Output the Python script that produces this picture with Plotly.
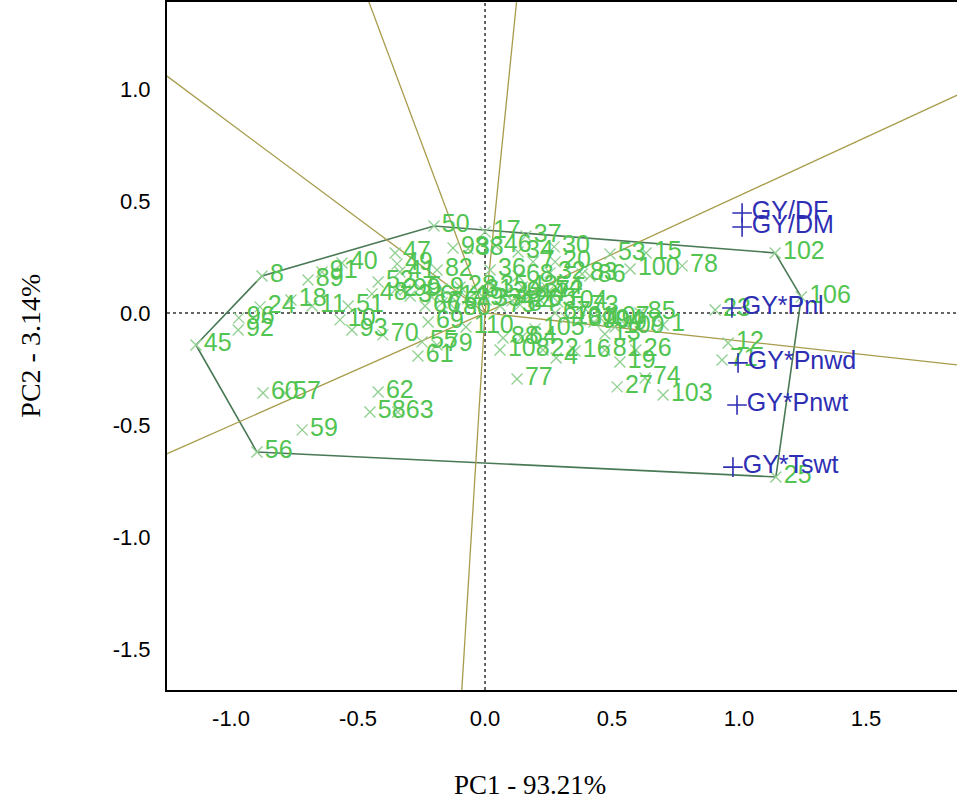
import plotly.graph_objects as go

# ---------------- data ----------------
geno_labels = [
    "45", "8", "50", "102", "106", "25", "56",
    "96", "92", "24", "18", "89", "91", "40", "11", "51", "10", "93", "70",
    "48", "52", "47", "49", "41", "82", "98", "38", "17", "37", "46", "34",
    "7", "30", "20", "53", "15", "100", "78", "83", "86", "32", "54", "36",
    "68", "69", "110", "55", "79", "61", "88", "64", "108", "77", "67", "73",
    "105", "85", "1", "13", "22", "4", "16", "81", "26", "19", "27", "74",
    "103", "12", "71", "23", "60", "57", "62", "58", "63", "59", "66",
    "2", "3", "5", "6", "9", "14", "28", "29", "31", "33", "35", "39", "42",
    "43", "44", "65", "72", "75", "80", "84", "87", "90", "94", "97", "99",
    "101", "104", "107", "109", "76",
]
geno_pc1 = [
    -1.138, -0.878, -0.201, 1.142, 1.245, 1.145, -0.898,
    -0.969, -0.972, -0.886, -0.764, -0.697, -0.642, -0.563, -0.681, -0.539, -0.571, -0.524, -0.402,
    -0.445, -0.421, -0.354, -0.346, -0.335, -0.189, -0.126, -0.067, 0.000, 0.161, 0.043, 0.130,
    0.189, 0.272, 0.276, 0.492, 0.634, 0.571, 0.776, 0.382, 0.413, 0.256, 0.244, 0.020,
    0.130, -0.224, -0.075, -0.248, -0.189, -0.264, 0.071, 0.142, 0.059, 0.126, 0.276, 0.386,
    0.197, 0.610, 0.701, 0.472, 0.228, 0.280, 0.354, 0.472, 0.594, 0.531, 0.520, 0.630,
    0.701, 0.957, 0.933, 0.906, -0.874, -0.787, -0.421, -0.453, -0.343, -0.720, -0.236,
    -0.354, -0.295, -0.256, -0.209, -0.169, -0.130, -0.098, -0.067, -0.031, 0.004, 0.028, 0.079, 0.106,
    0.146, 0.177, 0.217, 0.248, 0.059, -0.118, 0.138, 0.374, 0.429, 0.484, 0.551, -0.315,
    0.319, 0.287, 0.453, 0.512, -0.169,
]
geno_pc2 = [
    -0.143, 0.165, 0.388, 0.268, 0.071, -0.732, -0.621,
    -0.022, -0.076, 0.027, 0.058, 0.147, 0.183, 0.223, 0.031, 0.031, -0.031, -0.076, -0.098,
    0.085, 0.138, 0.268, 0.219, 0.183, 0.192, 0.290, 0.286, 0.362, 0.344, 0.299, 0.272,
    0.228, 0.295, 0.228, 0.263, 0.268, 0.196, 0.210, 0.174, 0.165, 0.179, 0.112, 0.192,
    0.165, -0.040, -0.063, -0.129, -0.143, -0.192, -0.112, -0.112, -0.165, -0.295, 0.000, 0.027,
    -0.071, 0.000, -0.054, -0.094, -0.165, -0.201, -0.170, -0.165, -0.165, -0.219, -0.330, -0.290,
    -0.366, -0.134, -0.210, 0.013, -0.357, -0.357, -0.353, -0.442, -0.442, -0.522, 0.031,
    0.103, 0.076, 0.112, 0.071, 0.107, 0.071, 0.116, 0.063, 0.098, 0.058, 0.116, 0.089, 0.054,
    0.116, 0.080, 0.058, 0.094, 0.031, 0.018, 0.036, -0.031, -0.040, -0.036, -0.049, 0.103,
    -0.022, 0.049, -0.022, -0.063, 0.045,
]

trait_labels = ["GY/DF", "GY/DM", "GY*Pnl", "GY*Pnwd", "GY*Pnwt", "GY*Tswt"]
trait_pc1 = [1.012, 1.012, 0.972, 0.996, 0.992, 0.976]
trait_pc2 = [0.446, 0.384, 0.022, -0.223, -0.411, -0.688]

hull_labels = ["45", "8", "50", "102", "106", "25", "56"]

x_tick_vals = [-1.0, -0.5, 0.0, 0.5, 1.0, 1.5]
x_tick_text = ["-1.0", "-0.5", "0.0", "0.5", "1.0", "1.5"]
y_tick_vals = [-1.5, -1.0, -0.5, 0.0, 0.5, 1.0]
y_tick_text = ["-1.5", "-1.0", "-0.5", "0.0", "0.5", "1.0"]

x_title = "PC1 - 93.21%"
y_title = "PC2 - 3.14%"

# ---------------- derived geometry ----------------
pos = {lab: (gx, gy) for lab, gx, gy in zip(geno_labels, geno_pc1, geno_pc2)}
hull_x = [pos[l][0] for l in hull_labels] + [pos[hull_labels[0]][0]]
hull_y = [pos[l][1] for l in hull_labels] + [pos[hull_labels[0]][1]]

ray_x, ray_y = [], []
n = len(hull_labels)
for i in range(n):
    ax_, ay_ = pos[hull_labels[i]]
    bx_, by_ = pos[hull_labels[(i + 1) % n]]
    dx, dy = bx_ - ax_, by_ - ay_
    t = -(ax_ * dx + ay_ * dy) / (dx * dx + dy * dy)
    fx, fy = ax_ + t * dx, ay_ + t * dy
    norm = (fx * fx + fy * fy) ** 0.5
    ray_x += [0, fx / norm * 6, None]
    ray_y += [0, fy / norm * 6, None]

SANS = "Liberation Sans, Arial, sans-serif"
SERIF = "Liberation Serif, Times New Roman, serif"

fig = go.Figure()

fig.add_trace(go.Scatter(
    x=hull_x, y=hull_y, mode="lines",
    line=dict(color="#4a7a55", width=1.6), hoverinfo="skip"))

fig.add_trace(go.Scatter(
    x=ray_x, y=ray_y, mode="lines",
    line=dict(color="#a89c4c", width=1.3), hoverinfo="skip"))

fig.add_trace(go.Scatter(
    x=geno_pc1, y=geno_pc2, mode="markers+text",
    text=geno_labels, textposition="middle right",
    textfont=dict(family=SANS, size=25, color="#52c452"),
    marker=dict(symbol="x-thin", size=11, color="#8fcf8f",
                line=dict(color="#8fcf8f", width=1.3)),
    cliponaxis=False))

fig.add_trace(go.Scatter(
    x=trait_pc1, y=trait_pc2, mode="markers+text",
    text=trait_labels, textposition="middle right",
    textfont=dict(family=SANS, size=25, color="#2e2eb4"),
    marker=dict(symbol="cross-thin", size=14, color="#2e2eb4",
                line=dict(color="#2e2eb4", width=1.6)),
    cliponaxis=False))

fig.update_layout(
    width=957, height=805,
    margin=dict(l=167, r=0, t=2, b=115),
    paper_bgcolor="white", plot_bgcolor="white",
    showlegend=False,
    shapes=[
        dict(type="line", xref="x", yref="paper", x0=0, x1=0, y0=0, y1=1,
             line=dict(color="#333333", width=1.5, dash="dot"), layer="below"),
        dict(type="line", xref="paper", yref="y", x0=0, x1=1, y0=0, y1=0,
             line=dict(color="#333333", width=1.5, dash="dot"), layer="below"),
    ],
    annotations=[
        dict(text=x_title, xref="paper", yref="paper", x=0.4595, y=-0.138,
             xanchor="center", yanchor="middle", showarrow=False,
             font=dict(family=SERIF, size=27, color="black")),
        dict(text=y_title, xref="paper", yref="paper", x=-0.173, y=0.501,
             xanchor="center", yanchor="middle", showarrow=False, textangle=-90,
             font=dict(family=SERIF, size=28, color="black")),
    ],
)

fig.update_xaxes(
    range=[-1.252, 1.858], showgrid=False, zeroline=False,
    showline=True, linecolor="black", linewidth=2, mirror=True,
    ticks="", tickvals=x_tick_vals, ticktext=x_tick_text,
    tickfont=dict(family=SANS, size=22, color="black"),
    ticklabelstandoff=8)

fig.update_yaxes(
    range=[-1.683, 1.388], showgrid=False, zeroline=False,
    showline=True, linecolor="black", linewidth=2, mirror=False,
    ticks="", tickvals=y_tick_vals, ticktext=y_tick_text,
    tickfont=dict(family=SANS, size=22, color="black"),
    ticklabelstandoff=10)

fig.write_html(
    "out.html",
    config={"displayModeBar": False},
    post_script="document.body.style.margin='0';document.body.style.overflow='hidden';",
)
